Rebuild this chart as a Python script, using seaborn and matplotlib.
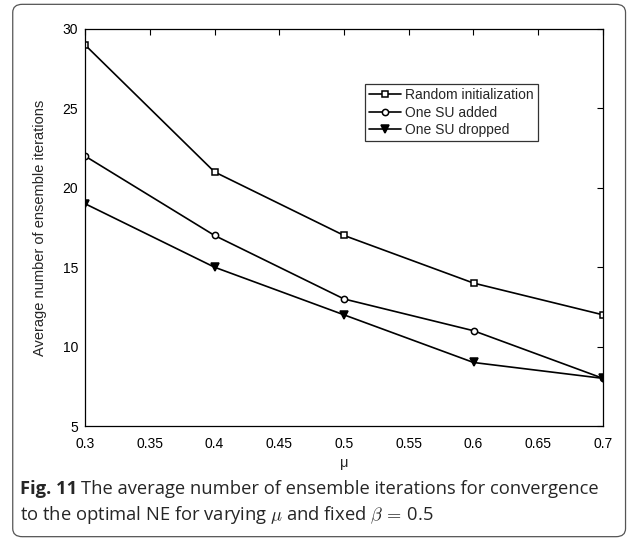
import numpy as np
import pandas as pd
import seaborn as sns
import matplotlib.pyplot as plt
from matplotlib.patches import FancyBboxPatch

# values
mu = [0.3, 0.4, 0.5, 0.6, 0.7]
random_init = [29, 21, 17, 14, 12]
su_added = [22, 17, 13, 11, 8]
su_dropped = [19, 15, 12, 9, 8]
series_names = ["Random initialization", "One SU added", "One SU dropped"]

df = pd.DataFrame({
    "mu": mu * 3,
    "iters": random_init + su_added + su_dropped,
    "series": np.repeat(series_names, len(mu)),
})

sns.set_style("white")
plt.rcParams["font.family"] = ["Liberation Sans", "DejaVu Sans"]
plt.rcParams["mathtext.fontset"] = "cm"
plt.rcParams["xtick.direction"] = "in"
plt.rcParams["ytick.direction"] = "in"

fig = plt.figure(figsize=(6.37, 5.41), dpi=100)
ax = fig.add_axes([85 / 637, 1 - 426 / 541, 518 / 637, 397 / 541])

markers = {"Random initialization": "s", "One SU added": "o", "One SU dropped": "v"}
msize = {"Random initialization": 4, "One SU added": 4.5, "One SU dropped": 5.5}
for name in series_names:
    sub = df[df["series"] == name]
    filled = name == "One SU dropped"
    sns.lineplot(data=sub, x="mu", y="iters", ax=ax, color="black", lw=1.2,
                 marker=markers[name], markersize=msize[name],
                 markerfacecolor="black" if filled else "white",
                 markeredgecolor="black", markeredgewidth=1.1, label=name)

ax.set_xlim(0.3, 0.7)
ax.set_ylim(5, 30)
ax.set_xticks(np.arange(0.3, 0.701, 0.05))
ax.set_xticklabels(["0.3", "0.35", "0.4", "0.45", "0.5", "0.55", "0.6", "0.65", "0.7"])
ax.set_yticks([5, 10, 15, 20, 25, 30])
ax.tick_params(labelsize=10, length=4, width=0.8, top=True, right=True, colors="black")
ax.tick_params(axis="x", pad=8)
ax.tick_params(axis="y", pad=5)
for s in ax.spines.values():
    s.set_color("black")
    s.set_linewidth(0.9)
ax.set_xlabel("μ", fontsize=10.5)
ax.xaxis.set_label_coords(0.5, -0.075)
ax.set_ylabel("Average number of ensemble iterations", fontsize=10.5)
ax.yaxis.set_label_coords(-0.073, 0.5)

leg = ax.legend(loc="upper left", bbox_to_anchor=(0.5405, 0.8615), fontsize=10,
                frameon=True, fancybox=False, handlelength=2.3, handletextpad=0.3,
                borderpad=0.3, labelspacing=0.25, borderaxespad=0)
leg.get_frame().set_edgecolor("black")
leg.get_frame().set_linewidth(0.9)

# rounded frame around figure + caption
border = FancyBboxPatch((0.02, 0.008), 0.962, 0.984, boxstyle="round,pad=0,rounding_size=0.015",
                        transform=fig.transFigure, fill=False, edgecolor="#555555", lw=0.9)
fig.patches.append(border)
cap_font = ["Open Sans", "DejaVu Sans"]
cap_size = 13.2
t1 = fig.text(20 / 637, 1 - 489 / 541, "Fig. 11", fontsize=cap_size, fontweight="bold",
              family=cap_font, va="center")
fig.canvas.draw()
bb = t1.get_window_extent()
fig.text((bb.x1 + 4) / 637, 1 - 489 / 541,
         "The average number of ensemble iterations for convergence",
         fontsize=cap_size, family=cap_font, va="center")
fig.text(20 / 637, 1 - 515 / 541, r"to the optimal NE for varying $\mu$ and fixed $\beta\,=\,$0.5",
         fontsize=cap_size, family=cap_font, va="center")

plt.savefig("out.png", dpi=100)
